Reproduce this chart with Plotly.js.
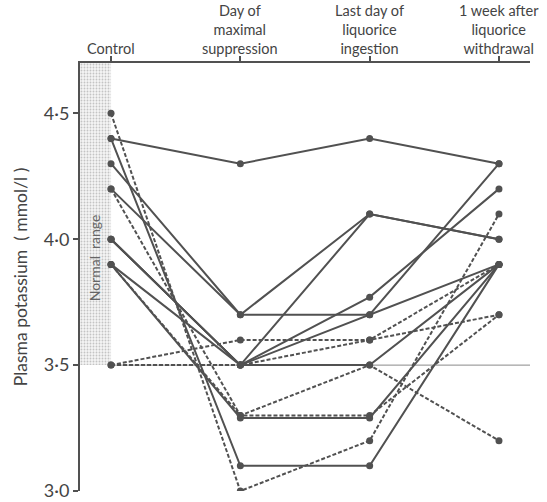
<!DOCTYPE html>
<html>
<head>
<meta charset="utf-8">
<script src="https://cdn.plot.ly/plotly-3.0.1.min.js"></script>
<style>html,body{margin:0;padding:0;background:#fff;}#chart{width:547px;height:502px;}</style>
</head>
<body>
<div id="chart"></div>
<script>
// Time points (category index 0..3)
var categories = [0, 1, 2, 3];
var categoryLabels = [
  "Control",
  "Day of<br>maximal<br>suppression",
  "Last day of<br>liquorice<br>ingestion",
  "1 week after<br>liquorice<br>withdrawal"
];

// Patients with solid lines: [control, day of max suppression, last day, 1 week after]
var solid1 = [4.4, 4.3, 4.4, 4.3];
var solid2 = [4.3, 3.7, 4.1, 4.0];
var solid3 = [4.0, 3.5, 4.1, 4.0];
var solid4 = [4.2, 3.7, 3.7, 3.9];
var solid5 = [4.0, 3.5, 3.77, 4.2];
var solid6 = [3.9, 3.5, 3.7, 4.3];
var solid7 = [4.0, 3.5, 3.5, 3.9];
var solid8 = [3.9, 3.29, 3.29, 3.9];
var solid9 = [4.4, 3.1, 3.1, 3.9];

// Patients with dashed lines
var dashed1 = [4.5, 3.0, 3.2, 4.1];
var dashed2 = [3.5, 3.6, 3.6, 3.9];
var dashed3 = [3.5, 3.5, 3.6, 3.7];
var dashed4 = [4.2, 3.3, 3.3, 3.7];
var dashed5 = [3.9, 3.3, 3.5, 3.2];

var yTickVals = [3.0, 3.5, 4.0, 4.5];
var yTickText = ["3·0", "3·5", "4·0", "4·5"];

var normalLow = 3.5;

var solidSeries = [solid1, solid2, solid3, solid4, solid5, solid6, solid7, solid8, solid9];
var dashedSeries = [dashed1, dashed2, dashed3, dashed4, dashed5];

var ink = "#515151";
var FONT = "Lato, 'Open Sans', sans-serif";

var traces = [];
// Normal range shading (stippled)
traces.push({
  x: [-0.24, 0, 0, -0.24, -0.24],
  y: [normalLow, normalLow, 4.7, 4.7, normalLow],
  mode: "lines", fill: "toself", line: {width: 0},
  fillcolor: "rgba(0,0,0,0)",
  fillpattern: {shape: ".", size: 3, solidity: 0.3, fgcolor: "#c4c4c4", bgcolor: "#f5f5f5"},
  hoverinfo: "skip", showlegend: false
});
// lower limit line
traces.push({
  x: [0, 3.24], y: [normalLow, normalLow], mode: "lines",
  line: {color: "#8a8a8a", width: 1}, hoverinfo: "skip", showlegend: false
});
solidSeries.forEach(function (s) {
  traces.push({x: categories, y: s, mode: "lines+markers",
    line: {color: ink, width: 2}, marker: {color: ink, size: 7}, showlegend: false});
});
dashedSeries.forEach(function (s) {
  traces.push({x: categories, y: s, mode: "lines+markers",
    line: {color: ink, width: 2, dash: "4px,2px"}, marker: {color: ink, size: 7}, showlegend: false});
});

// Category labels above the top axis
var annotations = [];
categoryLabels.forEach(function (t, i) {
  annotations.push({
    x: categories[i], y: 1, xref: "x", yref: "paper", yanchor: "bottom",
    yshift: 5, text: t, showarrow: false, borderpad: 0,
    font: {size: 14.5, color: "#444"}
  });
});
annotations.push({
  x: -0.13, y: 3.925, xref: "x", yref: "y", text: "Normal  range", textangle: -90,
  showarrow: false, font: {size: 14, color: "#666"}
});

var layout = {
  width: 547, height: 502,
  margin: {l: 80, r: 17, t: 63, b: 11},
  paper_bgcolor: "#fff", plot_bgcolor: "#fff",
  font: {family: FONT, color: ink},
  showlegend: false,
  xaxis: {
    side: "top", range: [-0.24, 3.24], tickvals: categories, ticktext: ["", "", "", ""],
    showline: true, linecolor: ink, linewidth: 2, ticks: "outside", ticklen: 5, tickwidth: 2,
    tickcolor: ink, showgrid: false, zeroline: false
  },
  yaxis: {
    range: [3.0, 4.7], tickvals: yTickVals, ticktext: yTickText,
    showline: true, linecolor: ink, linewidth: 2, ticks: "outside", ticklen: 5, tickwidth: 2,
    tickcolor: ink, showgrid: false, zeroline: false, tickfont: {size: 18, color: "#444"},
    title: {text: "Plasma potassium  ( mmol/l )", font: {size: 17.5, color: "#444"}, standoff: 12}
  },
  annotations: annotations
};

Plotly.newPlot("chart", traces, layout, {displayModeBar: false, staticPlot: true});
</script>
</body>
</html>
